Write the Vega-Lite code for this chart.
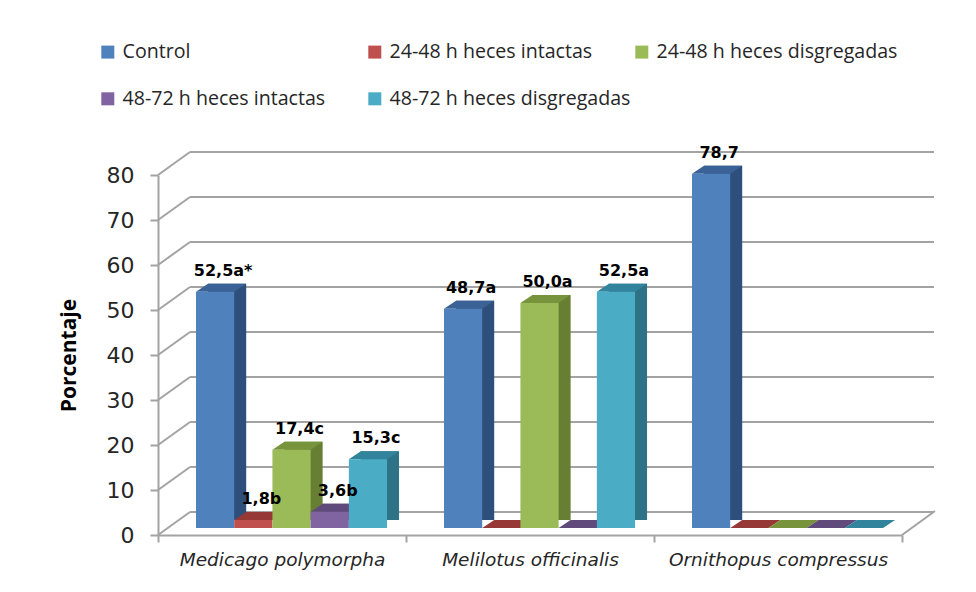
{
  "$schema": "https://vega.github.io/schema/vega-lite/v6.json",
  "width": 744,
  "height": 360,
  "autosize": {"type": "none"},
  "padding": {"left": 158, "top": 175, "right": 74, "bottom": 57},
  "background": "white",
  "config": {
    "view": {"stroke": null},
    "font": "DejaVu Sans",
    "axisY": {
      "titleFont": "Open Sans", "titleFontWeight": "bold",
      "titleFontSize": 21, "titleColor": "#000000", "titlePadding": 27,
      "labelFont": "DejaVu Sans", "labelFontSize": 22, "labelColor": "#262626", "labelPadding": 16,
      "tickSize": 8, "tickColor": "#A3A3A3", "tickWidth": 2,
      "domainColor": "#A3A3A3", "domainWidth": 2, "grid": false
    }
  },
  "datasets": {
    "bars": [
      {"species": "Medicago polymorpha", "treatment": "Control", "value": 52.5, "label": "52,5a*"},
      {"species": "Medicago polymorpha", "treatment": "24-48 h heces intactas", "value": 1.8, "label": "1,8b"},
      {"species": "Medicago polymorpha", "treatment": "24-48 h heces disgregadas", "value": 17.4, "label": "17,4c"},
      {"species": "Medicago polymorpha", "treatment": "48-72 h heces intactas", "value": 3.6, "label": "3,6b"},
      {"species": "Medicago polymorpha", "treatment": "48-72 h heces disgregadas", "value": 15.3, "label": "15,3c"},
      {"species": "Melilotus officinalis", "treatment": "Control", "value": 48.7, "label": "48,7a"},
      {"species": "Melilotus officinalis", "treatment": "24-48 h heces intactas", "value": 0, "label": ""},
      {"species": "Melilotus officinalis", "treatment": "24-48 h heces disgregadas", "value": 50.0, "label": "50,0a"},
      {"species": "Melilotus officinalis", "treatment": "48-72 h heces intactas", "value": 0, "label": ""},
      {"species": "Melilotus officinalis", "treatment": "48-72 h heces disgregadas", "value": 52.5, "label": "52,5a"},
      {"species": "Ornithopus compressus", "treatment": "Control", "value": 78.7, "label": "78,7"},
      {"species": "Ornithopus compressus", "treatment": "24-48 h heces intactas", "value": 0, "label": ""},
      {"species": "Ornithopus compressus", "treatment": "24-48 h heces disgregadas", "value": 0, "label": ""},
      {"species": "Ornithopus compressus", "treatment": "48-72 h heces intactas", "value": 0, "label": ""},
      {"species": "Ornithopus compressus", "treatment": "48-72 h heces disgregadas", "value": 0, "label": ""}
    ],
    "ticks": [
      {"t": 0}, {"t": 10}, {"t": 20}, {"t": 30}, {"t": 40},
      {"t": 50}, {"t": 60}, {"t": 70}, {"t": 80}
    ]
  },
  "layer": [
    {
      "layer": [
        {
          "data": {"name": "ticks"},
          "mark": {"type": "rule", "color": "#A3A3A3", "strokeWidth": 2, "xOffset": 32, "x2Offset": 32, "yOffset": -23, "y2Offset": -23},
          "encoding": {
            "x": {"datum": 0, "type": "quantitative", "scale": {"domain": [0, 1], "nice": false, "zero": false}, "axis": null},
            "x2": {"datum": 1},
            "y": {"field": "t", "type": "quantitative", "scale": {"domain": [0, 80], "nice": false}, "axis": {"title": "Porcentaje", "values": [0, 10, 20, 30, 40, 50, 60, 70, 80]}},
            "y2": {"field": "t"}
          }
        },
        {
          "data": {"name": "ticks"},
          "mark": {"type": "rule", "color": "#A3A3A3", "strokeWidth": 2, "x2Offset": 32, "y2Offset": -23},
          "encoding": {
            "x": {"datum": 0, "type": "quantitative", "axis": null},
            "x2": {"datum": 0},
            "y": {"field": "t", "type": "quantitative", "axis": {"title": "Porcentaje", "values": [0, 10, 20, 30, 40, 50, 60, 70, 80]}},
            "y2": {"field": "t"}
          }
        },
        {
          "data": {"values": [{"t": 0}]},
          "mark": {"type": "rule", "color": "#A3A3A3", "strokeWidth": 2, "x2Offset": 33, "y2Offset": -24},
          "encoding": {
            "x": {"datum": 1, "type": "quantitative", "axis": null},
            "x2": {"datum": 1},
            "y": {"field": "t", "type": "quantitative", "axis": {"title": "Porcentaje", "values": [0, 10, 20, 30, 40, 50, 60, 70, 80]}},
            "y2": {"field": "t"}
          }
        }
      ]
    },
    {
      "data": {"name": "bars"},
      "encoding": {
        "x": {
          "field": "species", "type": "nominal",
          "sort": ["Medicago polymorpha", "Melilotus officinalis", "Ornithopus compressus"],
          "scale": {"paddingInner": 0, "paddingOuter": 0},
          "axis": {
            "title": null, "labelAngle": 0, "labelFont": "DejaVu Sans", "labelFontStyle": "italic",
            "labelFontSize": 18.5, "labelColor": "#262626", "labelPadding": 8, "labelLimit": 400,
            "tickSize": 7, "tickColor": "#A3A3A3", "tickWidth": 2, "tickBand": "extent",
            "domainColor": "#A3A3A3", "domainWidth": 2
          }
        },
        "y": {
          "field": "value", "type": "quantitative",
          "scale": {"domain": [0, 80], "nice": false},
          "axis": {"title": "Porcentaje", "values": [0, 10, 20, 30, 40, 50, 60, 70, 80]}
        }
      },
      "layer": [
        {
          "mark": {"type": "bar", "yOffset": -15, "y2Offset": -15},
          "encoding": {
            "xOffset": {
              "field": "treatment", "type": "nominal",
              "sort": ["Control", "24-48 h heces intactas", "24-48 h heces disgregadas", "48-72 h heces intactas", "48-72 h heces disgregadas"],
              "scale": {"type": "band", "paddingInner": 0, "paddingOuter": 0.745, "align": 0.878}
            },
            "color": {
              "field": "treatment", "type": "nominal",
              "sort": ["Control", "24-48 h heces intactas", "24-48 h heces disgregadas", "48-72 h heces intactas", "48-72 h heces disgregadas"],
              "scale": {"range": ["#2E4F7B", "#8A322F", "#667F32", "#574373", "#2E7286"]},
              "legend": null
            }
          }
        },
        {
          "mark": {"type": "point", "shape": "M -19.1 0 L 19.1 0 L 31.1 -8 L -7.1 -8 Z", "size": 4, "filled": true, "opacity": 1, "strokeWidth": 0, "yOffset": -7},
          "encoding": {
            "xOffset": {
              "field": "treatment", "type": "nominal",
              "sort": ["Control", "24-48 h heces intactas", "24-48 h heces disgregadas", "48-72 h heces intactas", "48-72 h heces disgregadas"],
              "scale": {"type": "band", "paddingInner": 0, "paddingOuter": 0.745, "align": 0.6675}
            },
            "color": {
              "field": "treatment", "type": "nominal",
              "sort": ["Control", "24-48 h heces intactas", "24-48 h heces disgregadas", "48-72 h heces intactas", "48-72 h heces disgregadas"],
              "scale": {"range": ["#3A6296", "#963835", "#77933C", "#604A7C", "#31849B"]},
              "legend": null
            }
          }
        },
        {
          "mark": {"type": "bar", "yOffset": -7, "y2Offset": -7},
          "encoding": {
            "xOffset": {
              "field": "treatment", "type": "nominal",
              "sort": ["Control", "24-48 h heces intactas", "24-48 h heces disgregadas", "48-72 h heces intactas", "48-72 h heces disgregadas"],
              "scale": {"type": "band", "paddingInner": 0, "paddingOuter": 0.745, "align": 0.6675}
            },
            "color": {
              "field": "treatment", "type": "nominal",
              "sort": ["Control", "24-48 h heces intactas", "24-48 h heces disgregadas", "48-72 h heces intactas", "48-72 h heces disgregadas"],
              "scale": {"range": ["#4F81BD", "#C0504D", "#9BBB59", "#8064A2", "#4BACC6"]},
              "legend": {
                "orient": "none", "direction": "horizontal", "legendX": -60, "legendY": -133, "columns": 3, "gridAlign": "all",
                "columnPadding": 1, "rowPadding": 26, "padding": 0, "title": null,
                "symbolType": "square", "symbolSize": 169, "symbolStrokeWidth": 0,
                "labelFont": "Open Sans", "labelFontSize": 19.6, "labelColor": "#262626",
                "labelLimit": 400, "labelOffset": 5
              }
            }
          }
        },
        {
          "mark": {"type": "text", "font": "DejaVu Sans", "fontWeight": "bold", "fontSize": 16, "color": "#000000", "dx": 8, "dy": -16, "yOffset": -7, "baseline": "alphabetic"},
          "encoding": {
            "xOffset": {
              "field": "treatment", "type": "nominal",
              "sort": ["Control", "24-48 h heces intactas", "24-48 h heces disgregadas", "48-72 h heces intactas", "48-72 h heces disgregadas"],
              "scale": {"type": "band", "paddingInner": 0, "paddingOuter": 0.745, "align": 0.6675}
            },
            "text": {"field": "label"}
          }
        }
      ],
      "resolve": {"scale": {"xOffset": "independent", "color": "independent"}}
    }
  ],
  "resolve": {"scale": {"x": "independent"}}
}
